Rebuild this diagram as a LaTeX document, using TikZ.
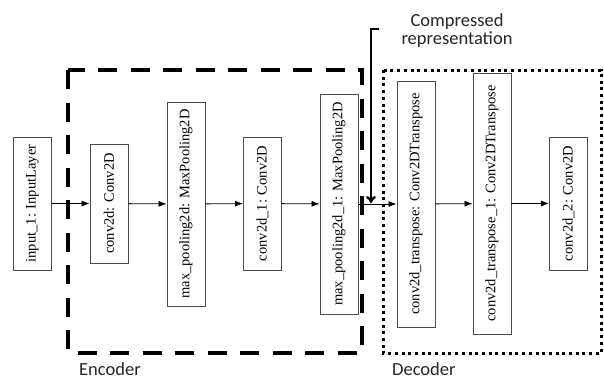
\documentclass[tikz,border=0pt]{standalone}
\usepackage{fontspec}
\setmainfont{Liberation Serif}
\newfontfamily\labelfont{Carlito}
\usetikzlibrary{arrows.meta}

\begin{document}
\begin{tikzpicture}[x=1pt,y=-1pt,
  layer/.style={draw=black!70,line width=0.9pt,rotate=90,inner sep=0pt,
    minimum height=38pt,font=\fontsize{14.5}{16}\selectfont},
  flow/.style={line width=0.8pt,-{Latex[length=8pt,width=6pt]}},
  tag/.style={font=\labelfont\fontsize{18.5}{21}\selectfont,text=black!85}]
\useasboundingbox (0,0) rectangle (604,381);
\draw[line width=4pt,dash pattern=on 19pt off 13.5pt] (68,70) rectangle (362,353);
\draw[line width=3pt,dash pattern=on 3pt off 3.7pt] (383,70) rectangle (601,353);
\node[layer,minimum width=133pt] (in1) at (32.5,203.5) {input\_1: InputLayer};
\node[layer,minimum width=119pt] (cv0) at (109,203.5) {conv2d: Conv2D};
\node[layer,minimum width=204pt] (mp0) at (186,204) {max\_pooling2d: MaxPooling2D};
\node[layer,minimum width=133pt] (cv1) at (262.5,203.5) {conv2d\_1: Conv2D};
\node[layer,minimum width=220pt] (mp1) at (339,204) {max\_pooling2d\_1: MaxPooling2D};
\node[layer,minimum width=246pt] (ct0) at (416,204) {conv2d\_transpose: Conv2DTranspose};
\node[layer,minimum width=261pt] (ct1) at (492,203.5) {conv2d\_transpose\_1: Conv2DTranspose};
\node[layer,minimum width=133pt] (cv2) at (568.5,203.5) {conv2d\_2: Conv2D};
\draw[flow] (in1) -- (cv0);
\draw[flow] (cv0) -- (mp0);
\draw[flow] (mp0) -- (cv1);
\draw[flow] (cv1) -- (mp1);
\draw[flow] (mp1) -- (ct0);
\draw[flow] (ct0) -- (ct1);
\draw[flow] (ct1) -- (cv2);
\node[tag,align=center] (crep) at (457,31) {Compressed\\[-3pt]representation};
\coordinate (crtick) at (379,29);
\coordinate (crtop) at (371,29);
\coordinate (crtip) at (371,203);
\draw[line width=2.5pt,-{To[length=7pt,width=10pt]}] (crtick) -- (crtop) -- (crtip);
\node[tag,anchor=base west,inner sep=0pt] (enc) at (79,375) {Encoder};
\node[tag,anchor=base west,inner sep=0pt] (dec) at (392,375) {Decoder};
\end{tikzpicture}
\end{document}
